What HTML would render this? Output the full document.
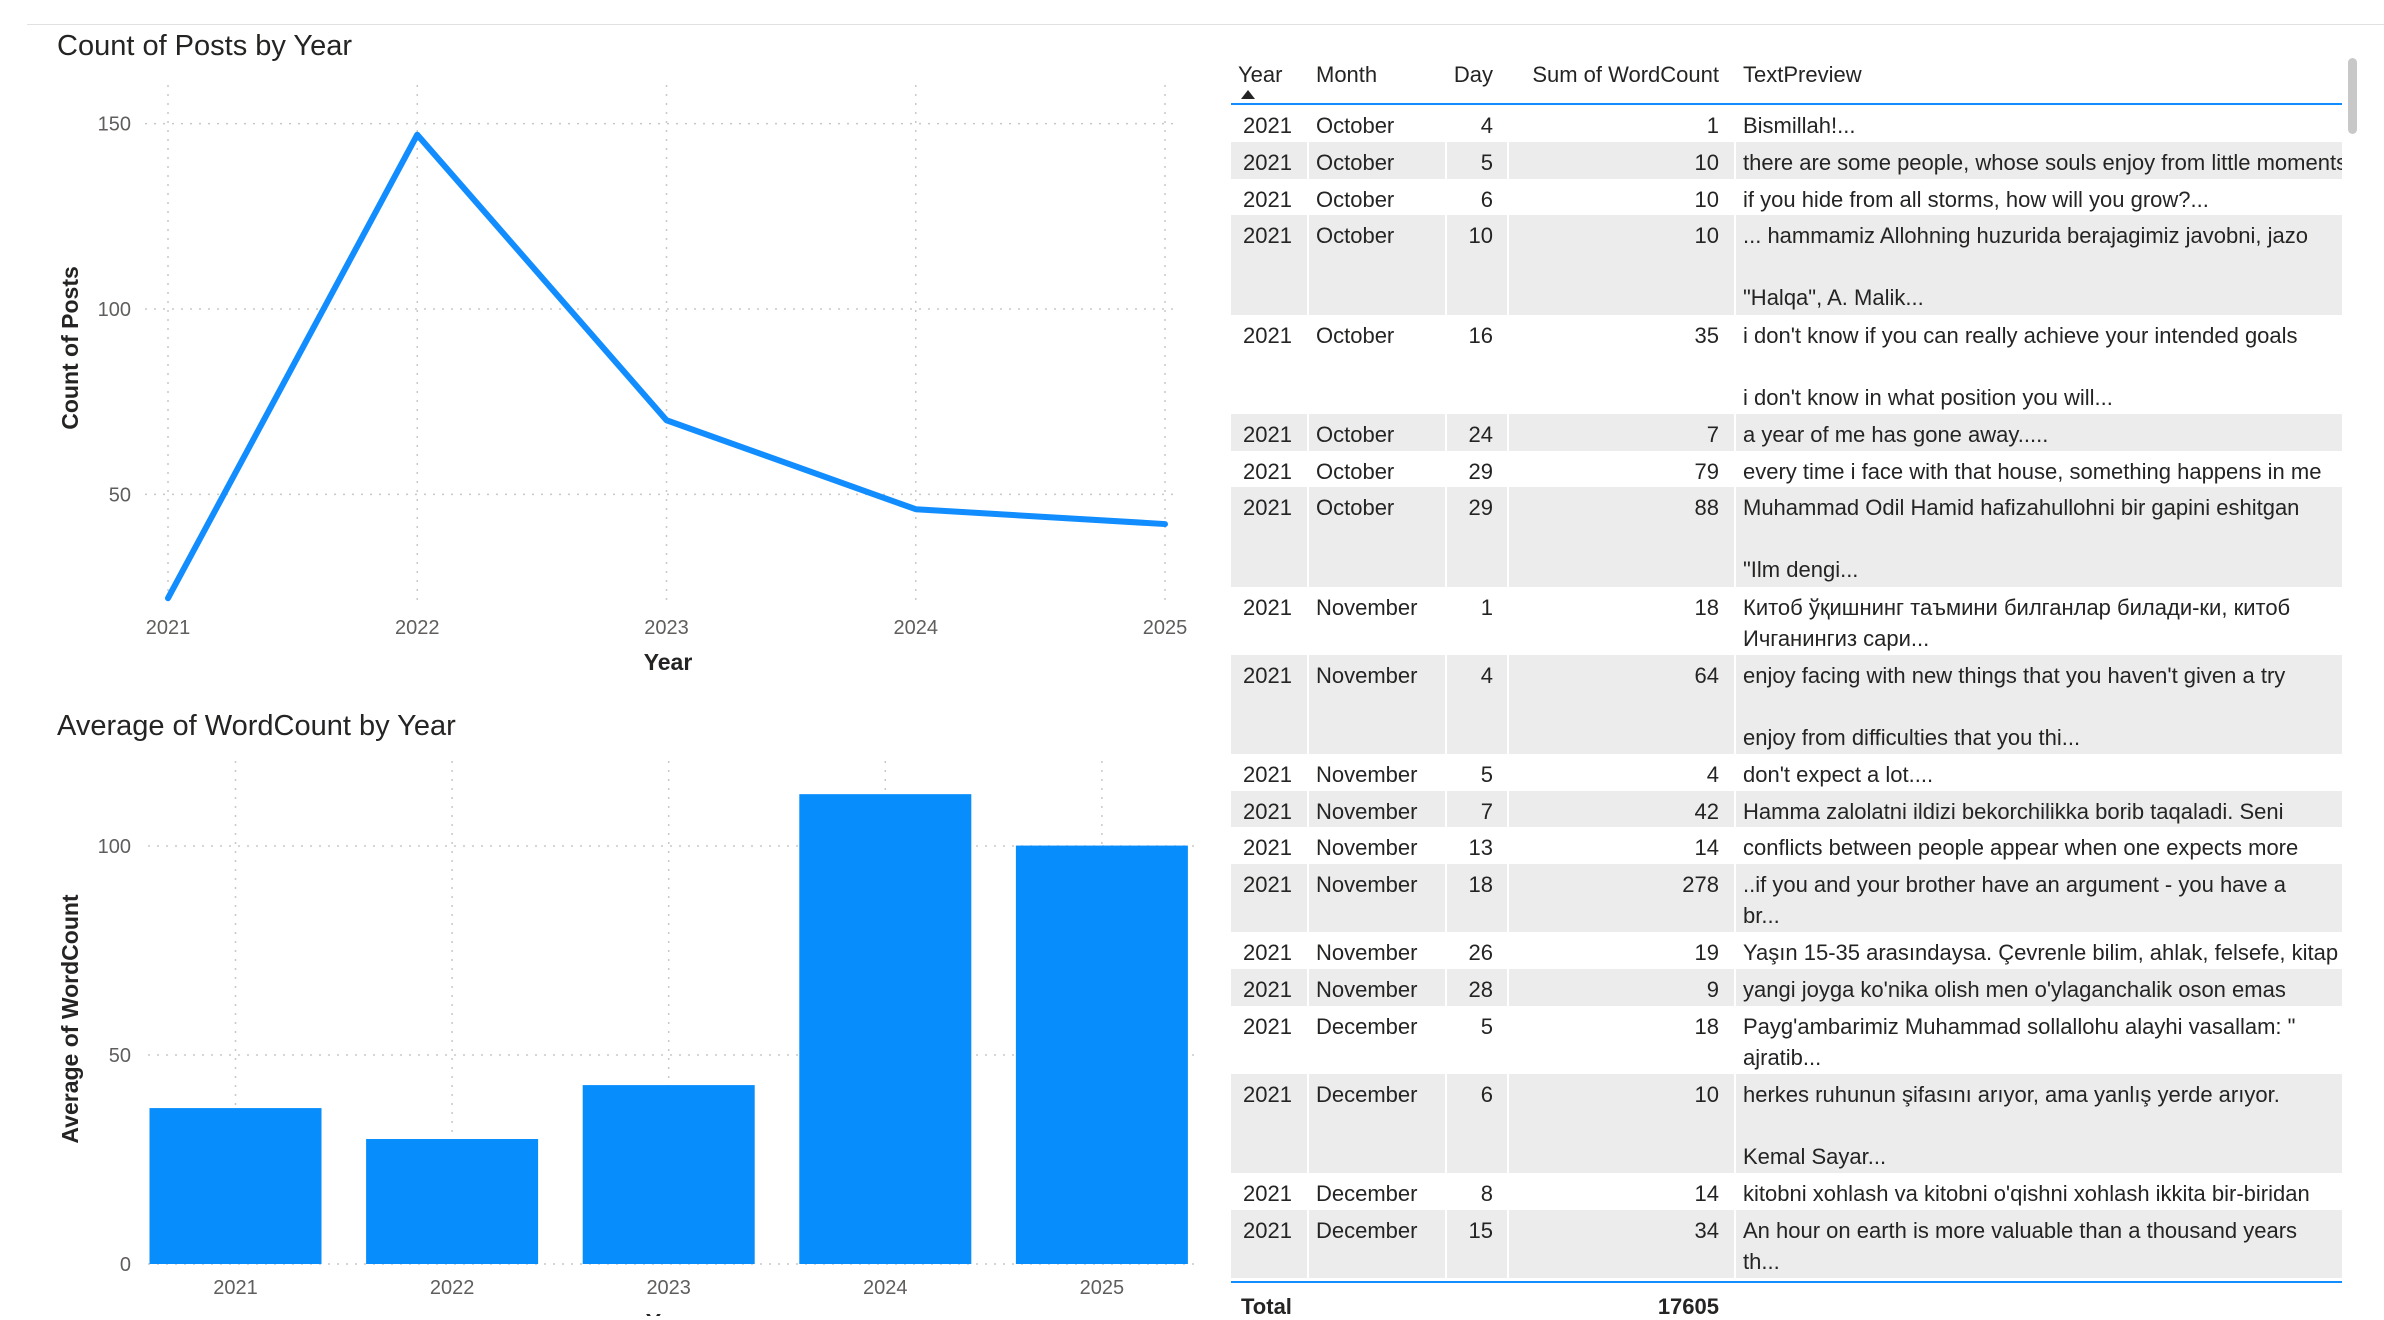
<!DOCTYPE html>
<html><head><meta charset="utf-8">
<style>
html,body{margin:0;padding:0;background:#fff;}
body{width:2384px;height:1316px;overflow:hidden;position:relative;font-family:"Liberation Sans","Noto Sans CJK SC",sans-serif;}
svg text{font-family:"Liberation Sans","Noto Sans CJK SC",sans-serif;}
#tbl{position:absolute;left:1231px;top:0;width:1111px;height:1316px;}
.hdr{position:absolute;top:62px;font-size:22px;color:#252423;}
.row{position:absolute;left:0;width:1111px;font-size:22px;color:#252423;line-height:31px;}
.row.g{background:#ececec;}
.c{position:absolute;top:5px;white-space:nowrap;}
.yr{left:12px}.mo{left:85px}.dy{right:849px;text-align:right}.sm{right:623px;text-align:right}
.tx{left:512px;width:599px;overflow:hidden;}
.sep{position:absolute;top:0;bottom:0;width:2px;background:#fff;}
</style></head><body>
<div style="position:absolute;left:27px;top:24px;width:2357px;height:1px;background:#e1e1e1"></div>

<svg id="charts" width="1231" height="1316" style="position:absolute;left:0;top:0">
<g id="line-chart"></g>
<g id="bar-chart"></g>
</svg>

<div id="tbl"></div>
<div style="position:absolute;left:2348px;top:58px;width:9px;height:76px;background:#c8c8c8;border-radius:5px"></div>

<script>
const years = ["2021","2022","2023","2024","2025"];
const postCounts = [22, 147, 70, 46, 42];
const postTicks = [50, 100, 150];
const avgWordCounts = [37.3, 29.9, 42.8, 112.4, 100.1];
const avgTicks = [0, 50, 100];

const NS = "http://www.w3.org/2000/svg";
function mk(tag, attrs, parent, text){
  const e = document.createElementNS(NS, tag);
  for (const k in attrs) e.setAttribute(k, attrs[k]);
  if (text !== undefined) e.textContent = text;
  parent.appendChild(e); return e;
}

// ---- Line chart ----
(function(){
  const g = document.getElementById('line-chart');
  const x = i => 168 + i * (1165 - 168) / (years.length - 1);
  const y = v => 309 - (v - 100) * (309 - 123.6) / 50;
  const t = mk('text', {x:57, y:55, 'font-size':29, fill:'#252423'}, g, 'Count of Posts by Year');
  
  
  postTicks.forEach(v => {
    const gl = mk('line', {x1:145, x2:1178, y1:y(v), y2:y(v), stroke:'#c8c8c8', 'stroke-width':1.5, 'stroke-dasharray':'2 7'}, g);
    
    
    const tl = mk('text', {x:131, y:y(v)+7, 'font-size':20, fill:'#605e5c', 'text-anchor':'end'}, g, String(v));
    
    
  });
  years.forEach((yr, i) => {
    const gl = mk('line', {x1:x(i), x2:x(i), y1:85, y2:600, stroke:'#c8c8c8', 'stroke-width':1.5, 'stroke-dasharray':'2 7'}, g);
    
    
    const tl = mk('text', {x:x(i), y:634, 'font-size':20, fill:'#605e5c', 'text-anchor':'middle'}, g, yr);
    
    
  });
  const pts = postCounts.map((v, i) => x(i) + ',' + y(v)).join(' ');
  const pl = mk('polyline', {points:pts, fill:'none', stroke:'#118dff', 'stroke-width':6, 'stroke-linejoin':'round', 'stroke-linecap':'round'}, g);
  
  
  const xt = mk('text', {x:668, y:670, 'font-size':23, 'font-weight':'bold', fill:'#252423', 'text-anchor':'middle'}, g, 'Year');
  
  
  const yt = mk('text', {x:0, y:0, 'font-size':23, 'font-weight':'bold', fill:'#252423', 'text-anchor':'middle', transform:'translate(78,348) rotate(-90)'}, g, 'Count of Posts');
  
  
})();

// ---- Bar chart ----
(function(){
  const g = document.getElementById('bar-chart');
  const cx = i => 235.5 + i * 216.6;
  const y = v => 1264 - v * 4.18;
  const bw = 172;
  const t = mk('text', {x:57, y:735, 'font-size':29, fill:'#252423'}, g, 'Average of WordCount by Year');
  
  
  avgTicks.forEach(v => {
    const gl = mk('line', {x1:148, x2:1195, y1:y(v), y2:y(v), stroke:'#c8c8c8', 'stroke-width':1.5, 'stroke-dasharray':'2 7'}, g);
    
    
    const tl = mk('text', {x:131, y:y(v)+7, 'font-size':20, fill:'#605e5c', 'text-anchor':'end'}, g, String(v));
    
    
  });
  years.forEach((yr, i) => {
    const gl = mk('line', {x1:cx(i), x2:cx(i), y1:761, y2:1264, stroke:'#c8c8c8', 'stroke-width':1.5, 'stroke-dasharray':'2 7'}, g);
    
    
  });
  avgWordCounts.forEach((v, i) => {
    const r = mk('rect', {x:cx(i)-bw/2, y:y(v), width:bw, height:y(0)-y(v), fill:'#078dfc'}, g);
    
    
    const tl = mk('text', {x:cx(i), y:1294, 'font-size':20, fill:'#605e5c', 'text-anchor':'middle'}, g, years[i]);
    
    
  });
  const xt = mk('text', {x:670, y:1330, 'font-size':23, 'font-weight':'bold', fill:'#252423', 'text-anchor':'middle'}, g, 'Year');
  
  
  const yt = mk('text', {x:0, y:0, 'font-size':23, 'font-weight':'bold', fill:'#252423', 'text-anchor':'middle', transform:'translate(78,1019) rotate(-90)'}, g, 'Average of WordCount');
  
  
})();

// ---- Table ----
const rows = [
 ["2021","October","4","1",["Bismillah!..."]],
 ["2021","October","5","10",["there are some people, whose souls enjoy from little moments"]],
 ["2021","October","6","10",["if you hide from all storms, how will you grow?..."]],
 ["2021","October","10","10",["... hammamiz Allohning huzurida berajagimiz javobni, jazo","","\"Halqa\", A. Malik..."]],
 ["2021","October","16","35",["i don't know if you can really achieve your intended goals","","i don't know in what position you will..."]],
 ["2021","October","24","7",["a year of me has gone away....."]],
 ["2021","October","29","79",["every time i face with that house, something happens in me"]],
 ["2021","October","29","88",["Muhammad Odil Hamid hafizahullohni bir gapini eshitgan","","\"Ilm dengi..."]],
 ["2021","November","1","18",["Китоб ўқишнинг таъмини билганлар билади-ки, китоб","Ичганингиз сари..."]],
 ["2021","November","4","64",["enjoy facing with new things that you haven't given a try","","enjoy from difficulties that you thi..."]],
 ["2021","November","5","4",["don't expect a lot...."]],
 ["2021","November","7","42",["Hamma zalolatni ildizi bekorchilikka borib taqaladi. Seni"]],
 ["2021","November","13","14",["conflicts between people appear when one expects more"]],
 ["2021","November","18","278",["..if you and your brother have an argument - you have a","br..."]],
 ["2021","November","26","19",["Yaşın 15-35 arasındaysa. Çevrenle bilim, ahlak, felsefe, kitap"]],
 ["2021","November","28","9",["yangi joyga ko'nika olish men o'ylaganchalik oson emas"]],
 ["2021","December","5","18",["Payg'ambarimiz Muhammad sollallohu alayhi vasallam: \"","ajratib..."]],
 ["2021","December","6","10",["herkes ruhunun şifasını arıyor, ama yanlış yerde arıyor.","","Kemal Sayar..."]],
 ["2021","December","8","14",["kitobni xohlash va kitobni o'qishni xohlash ikkita bir-biridan"]],
 ["2021","December","15","34",["An hour on earth is more valuable than a thousand years","th..."]]
];
(function(){
  const tb = document.getElementById('tbl');
  const heads = [["Year",7,null],["Month",85,null],["Day",null,849],["Sum of WordCount",null,623],["TextPreview",512,null]];
  heads.forEach(h => {
    const d = document.createElement('div');
    d.className = 'hdr'; d.textContent = h[0];
    if (h[1] !== null) d.style.left = h[1] + 'px'; else d.style.right = h[2] + 'px';
    
    
    tb.appendChild(d);
  });
  const arrow = document.createElement('div');
  arrow.style.cssText = 'position:absolute;left:10px;top:90px;width:0;height:0;border-left:7px solid transparent;border-right:7px solid transparent;border-bottom:9px solid #252423';
  
  
  tb.appendChild(arrow);
  const hl = document.createElement('div');
  hl.style.cssText = 'position:absolute;left:0;top:103px;width:1111px;height:2px;background:#118dff';
  
  
  tb.appendChild(hl);
  let top = 105;
  rows.forEach((r, i) => {
    const n = r[4].length;
    const h = 5.6 + 31.2 * n;
    const d = document.createElement('div');
    d.className = 'row' + (i % 2 ? ' g' : '');
    d.style.top = top + 'px'; d.style.height = h + 'px';
    
    
    if (i % 2) [76, 214, 276, 503].forEach(sx => {
      const s = document.createElement('div'); s.className = 'sep'; s.style.left = sx + 'px'; d.appendChild(s);
    });
    const cells = [['yr', r[0]], ['mo', r[1]], ['dy', r[2]], ['sm', r[3]]];
    cells.forEach(c => {
      const e = document.createElement('div'); e.className = 'c ' + c[0]; e.textContent = c[1];
      
      
      d.appendChild(e);
    });
    const tx = document.createElement('div'); tx.className = 'c tx';
    tx.innerHTML = r[4].map(l => l === '' ? '&nbsp;' : l.replace(/&/g,'&amp;').replace(/</g,'&lt;')).join('<br>');
    
    
    d.appendChild(tx);
    tb.appendChild(d);
    top += h;
  });
  const tl = document.createElement('div');
  tl.style.cssText = 'position:absolute;left:0;top:1281px;width:1111px;height:2px;background:#118dff';
  
  
  tb.appendChild(tl);
  const tt = document.createElement('div');
  tt.style.cssText = 'position:absolute;left:10px;top:1294px;font-size:22px;font-weight:bold;color:#252423';
  tt.textContent = 'Total';
  
  
  tb.appendChild(tt);
  const tv = document.createElement('div');
  tv.style.cssText = 'position:absolute;right:623px;top:1294px;font-size:22px;font-weight:bold;color:#252423';
  tv.textContent = '17605';
  
  
  tb.appendChild(tv);
})();
</script>
</body></html>
